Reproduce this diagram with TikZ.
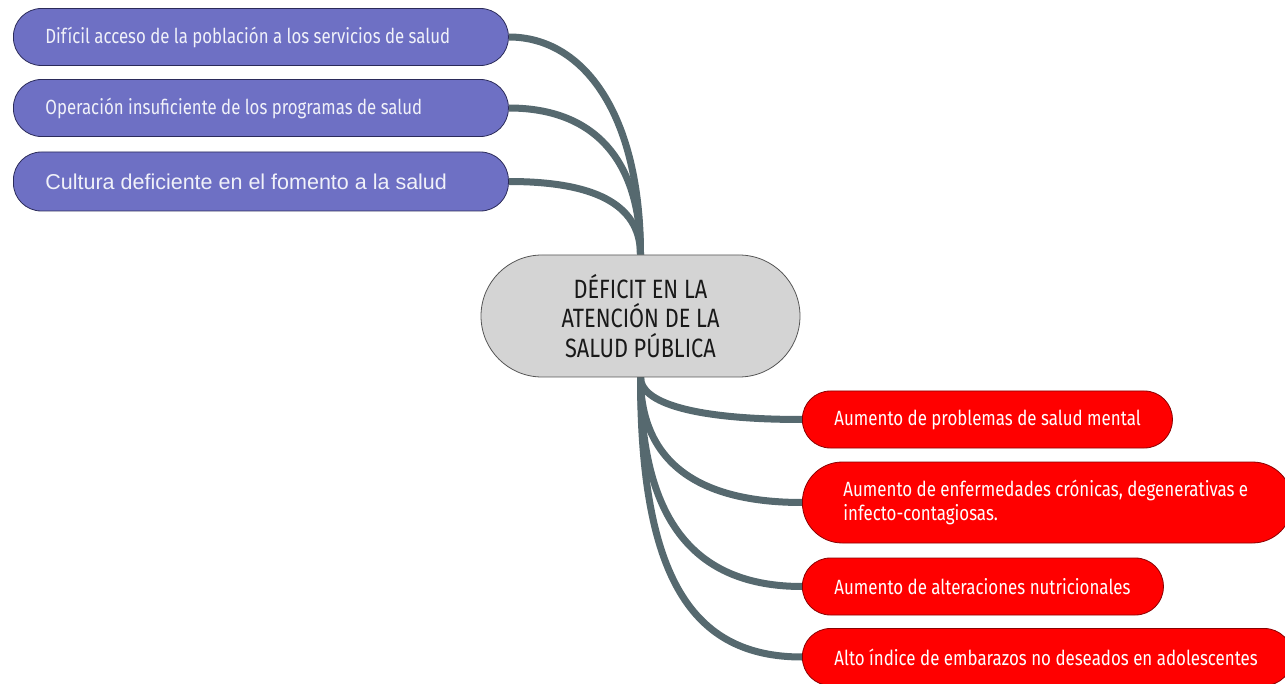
\documentclass[tikz,border=0pt]{standalone}
\usepackage{fontspec}
\setmainfont[FakeStretch=0.82]{Fira Sans}
\newfontfamily\plainsans{Liberation Sans}
\usetikzlibrary{backgrounds}
\definecolor{causefill}{HTML}{6E70C4}
\definecolor{causeline}{HTML}{2B2B5A}
\definecolor{efffill}{HTML}{FF0000}
\definecolor{effline}{HTML}{8B0000}
\definecolor{centerfill}{HTML}{D4D4D4}
\definecolor{centerline}{HTML}{555555}
\definecolor{conn}{HTML}{56696F}
\begin{document}
\begin{tikzpicture}[x=1pt,y=-1pt,
  causebox/.style={draw=causeline, fill=causefill, line width=0.8pt, rounded corners=28pt,
    minimum height=57pt, text width=431pt, inner xsep=32pt, inner ysep=0pt, align=flush left,
    text=white!90!causefill, font=\fontsize{20.5}{24}\selectfont, anchor=west},
  effbox/.style={draw=effline, fill=efffill, line width=0.8pt, rounded corners=28pt,
    minimum height=57pt, inner xsep=32pt, inner ysep=0pt, align=flush left,
    text=white, font=\fontsize{20.6}{24}\selectfont, anchor=west},
  centerbox/.style={draw=centerline, fill=centerfill, line width=0.8pt, rounded corners=61pt,
    minimum height=122pt, minimum width=319pt, text width=280pt, align=flush center,
    text=black!90, font=\fontsize{26.5}{29.5}\selectfont},
  link/.style={draw=conn, line width=7pt}]
\useasboundingbox (0,0) rectangle (1285,684);
\clip (0,0) rectangle (1285,684);

\node[causebox] (l1) at (13,37) {\mbox{Difícil acceso de la población a los servicios de salud}};
\node[causebox] (l2) at (13,108) {\mbox{Operación insuficiente de los programas de salud}};
\node[causebox, font=\plainsans\fontsize{21.5}{24}\selectfont, minimum height=59pt] (l3) at (13,181.5) {\mbox{Cultura deficiente en el fomento a la salud}};

\node[centerbox] (c) at (640.5,316) {DÉFICIT EN LA\\ATENCIÓN DE LA\\SALUD PÚBLICA};

\node[effbox, text width=306pt] (r1) at (802,419.5) {\mbox{Aumento de problemas de salud mental}};
\node[effbox, text width=408pt, inner xsep=41pt, minimum height=81pt, rounded corners=40pt] (r2) at (802,502.5) {\mbox{Aumento de enfermedades crónicas, degenerativas e}\\\mbox{infecto-contagiosas.}};
\node[effbox, text width=297pt] (r3) at (802,586.5) {\mbox{Aumento de alteraciones nutricionales}};
\node[effbox, text width=426pt] (r4) at (802,657) {\mbox{Alto índice de embarazos no deseados en adolescentes}};

\begin{pgfonlayer}{background}
\draw[link] (l1.east) .. controls +(75,0) and +(0,-140) .. (c.north);
\draw[link] (l2.east) .. controls +(85,0) and +(0,-95) .. (c.north);
\draw[link] (l3.east) .. controls +(95,0) and +(0,-45) .. (c.north);
\draw[link] (c.south) .. controls +(0,25) and +(-110,0) .. (r1.west);
\draw[link] (c.south) .. controls +(0,80) and +(-110,0) .. (r2.west);
\draw[link] (c.south) .. controls +(0,140) and +(-110,0) .. (r3.west);
\draw[link] (c.south) .. controls +(0,200) and +(-110,0) .. (r4.west);
\end{pgfonlayer}
\end{tikzpicture}
\end{document}
